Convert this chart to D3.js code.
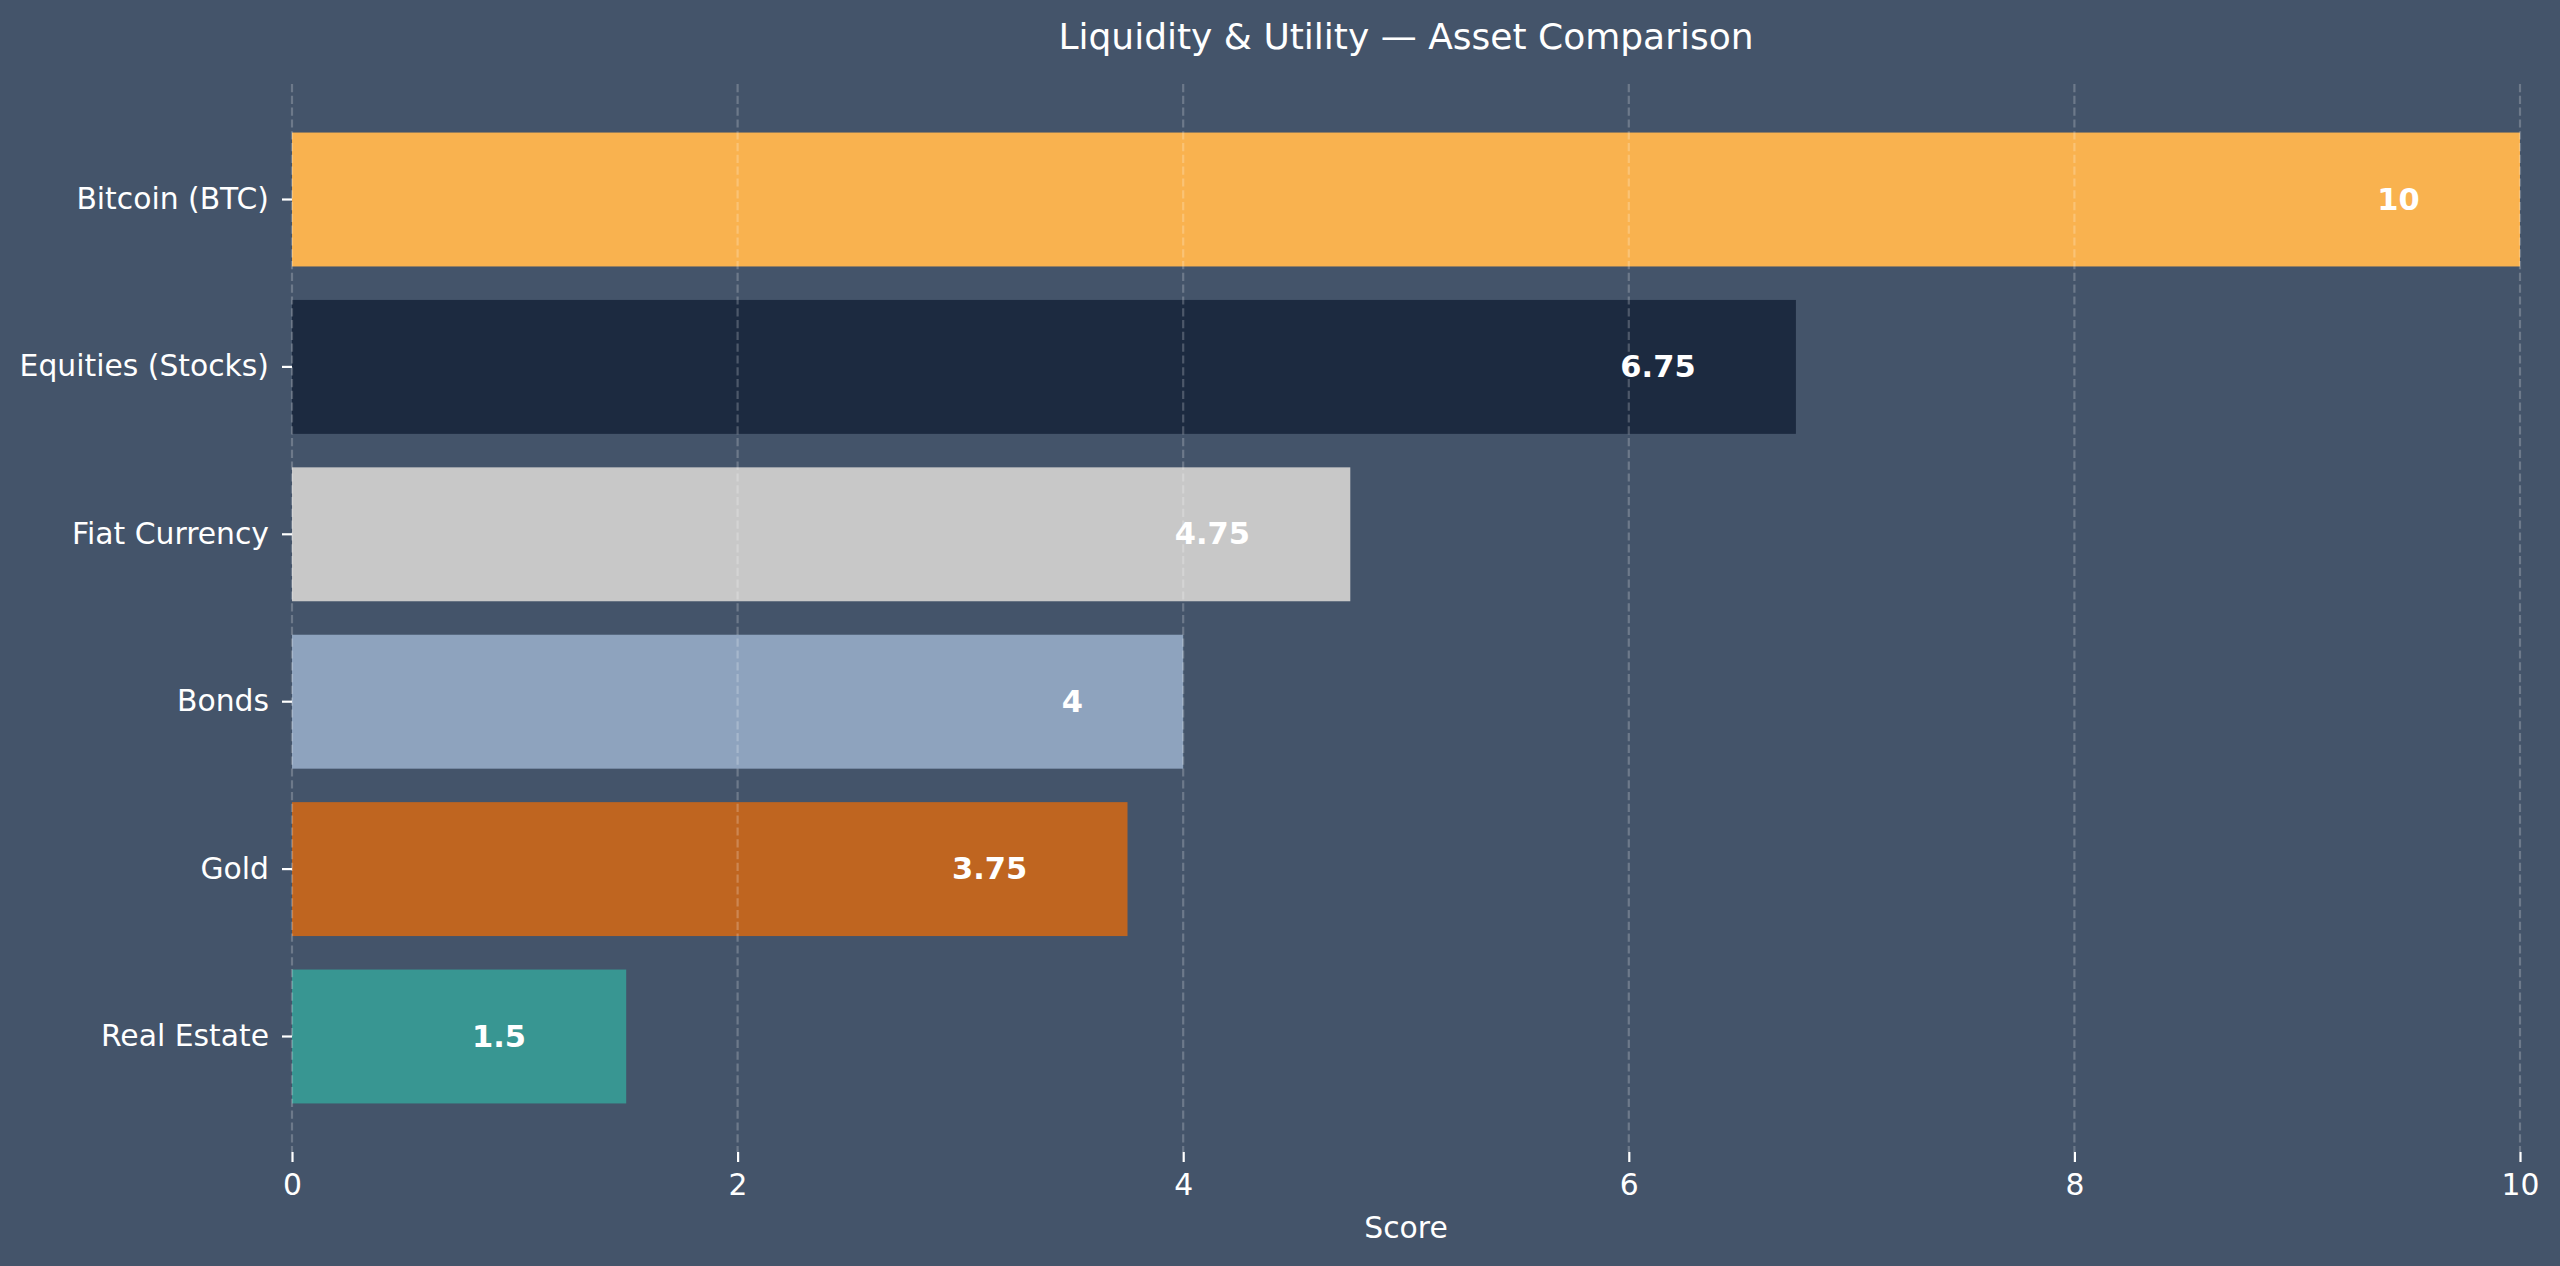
<!DOCTYPE html>
<html>
<head>
<meta charset="utf-8">
<script src="https://cdn.jsdelivr.net/npm/d3@7"></script>
<style>
  html, body { margin: 0; padding: 0; background: #44546a; }
  svg { display: block; font-family: "DejaVu Sans", sans-serif; }
  .axis path.domain { display: none; }
  .axis line { stroke: #ffffff; stroke-width: 2.2; }
  .axis text { fill: #ffffff; font-size: 29.8px; font-family: "DejaVu Sans", sans-serif; }
</style>
</head>
<body>
<div id="chart"></div>
<script>
// data, top to bottom
const assets = ["Bitcoin (BTC)", "Equities (Stocks)", "Fiat Currency", "Bonds", "Gold", "Real Estate"];
const scores = [10, 6.75, 4.75, 4, 3.75, 1.5];
const barColors = ["#f9b24f", "#1c2a40", "#c8c8c8", "#8ea3be", "#bf6520", "#389692"];
const xTicks = [0, 2, 4, 6, 8, 10];

const W = 2560, H = 1266;
const margin = {top: 84, right: 40, bottom: 114, left: 292};
const plotW = W - margin.left - margin.right;
const plotH = H - margin.top - margin.bottom;

const svg = d3.select("#chart").append("svg")
    .attr("width", W)
    .attr("height", H);

svg.append("rect")
    .attr("width", W)
    .attr("height", H)
    .attr("fill", "#44546a");

const g = svg.append("g")
    .attr("transform", "translate(" + margin.left + "," + margin.top + ")");

const x = d3.scaleLinear().domain([0, 10]).range([0, plotW]);
const y = d3.scaleBand().domain(assets).range([0, plotH])
    .paddingInner(0.2)
    .paddingOuter(0.29);

const rows = assets.map((a, i) => ({asset: a, score: scores[i], color: barColors[i]}));

// bars
g.selectAll("rect.bar")
    .data(rows)
    .enter()
    .append("rect")
    .attr("class", "bar")
    .attr("x", x(0))
    .attr("y", d => y(d.asset))
    .attr("width", d => x(d.score) - x(0))
    .attr("height", y.bandwidth())
    .attr("fill", d => d.color);

// dashed vertical grid, drawn over the bars
g.selectAll("line.grid")
    .data(xTicks)
    .enter()
    .append("line")
    .attr("class", "grid")
    .attr("x1", d => x(d))
    .attr("x2", d => x(d))
    .attr("y1", 0)
    .attr("y2", plotH)
    .attr("stroke", "rgba(255,255,255,0.22)")
    .attr("stroke-width", 2.2)
    .attr("stroke-dasharray", "8.2,3.6");

// value labels, right-aligned a little inside the bar end
g.selectAll("text.val")
    .data(rows)
    .enter()
    .append("text")
    .attr("class", "val")
    .attr("x", d => x(d.score - 0.45))
    .attr("y", d => y(d.asset) + y.bandwidth() / 2)
    .attr("dy", "0.33em")
    .attr("text-anchor", "end")
    .attr("fill", "#ffffff")
    .attr("font-size", "30.5px")
    .attr("font-weight", "bold")
    .text(d => d3.format("~g")(d.score));

// axes
g.append("g")
    .attr("class", "axis")
    .attr("transform", "translate(0," + plotH + ")")
    .call(d3.axisBottom(x).tickValues(xTicks).tickFormat(d3.format("d")).tickSize(10).tickPadding(12));

g.append("g")
    .attr("class", "axis")
    .call(d3.axisLeft(y).tickSize(10).tickPadding(13));

// axis title
svg.append("text")
    .attr("x", margin.left + plotW / 2)
    .attr("y", 1238)
    .attr("text-anchor", "middle")
    .attr("fill", "#ffffff")
    .attr("font-size", "29.8px")
    .text("Score");

// chart title
svg.append("text")
    .attr("x", margin.left + plotW / 2)
    .attr("y", 49)
    .attr("text-anchor", "middle")
    .attr("fill", "#ffffff")
    .attr("font-size", "36px")
    .text("Liquidity & Utility — Asset Comparison");
</script>
</body>
</html>
